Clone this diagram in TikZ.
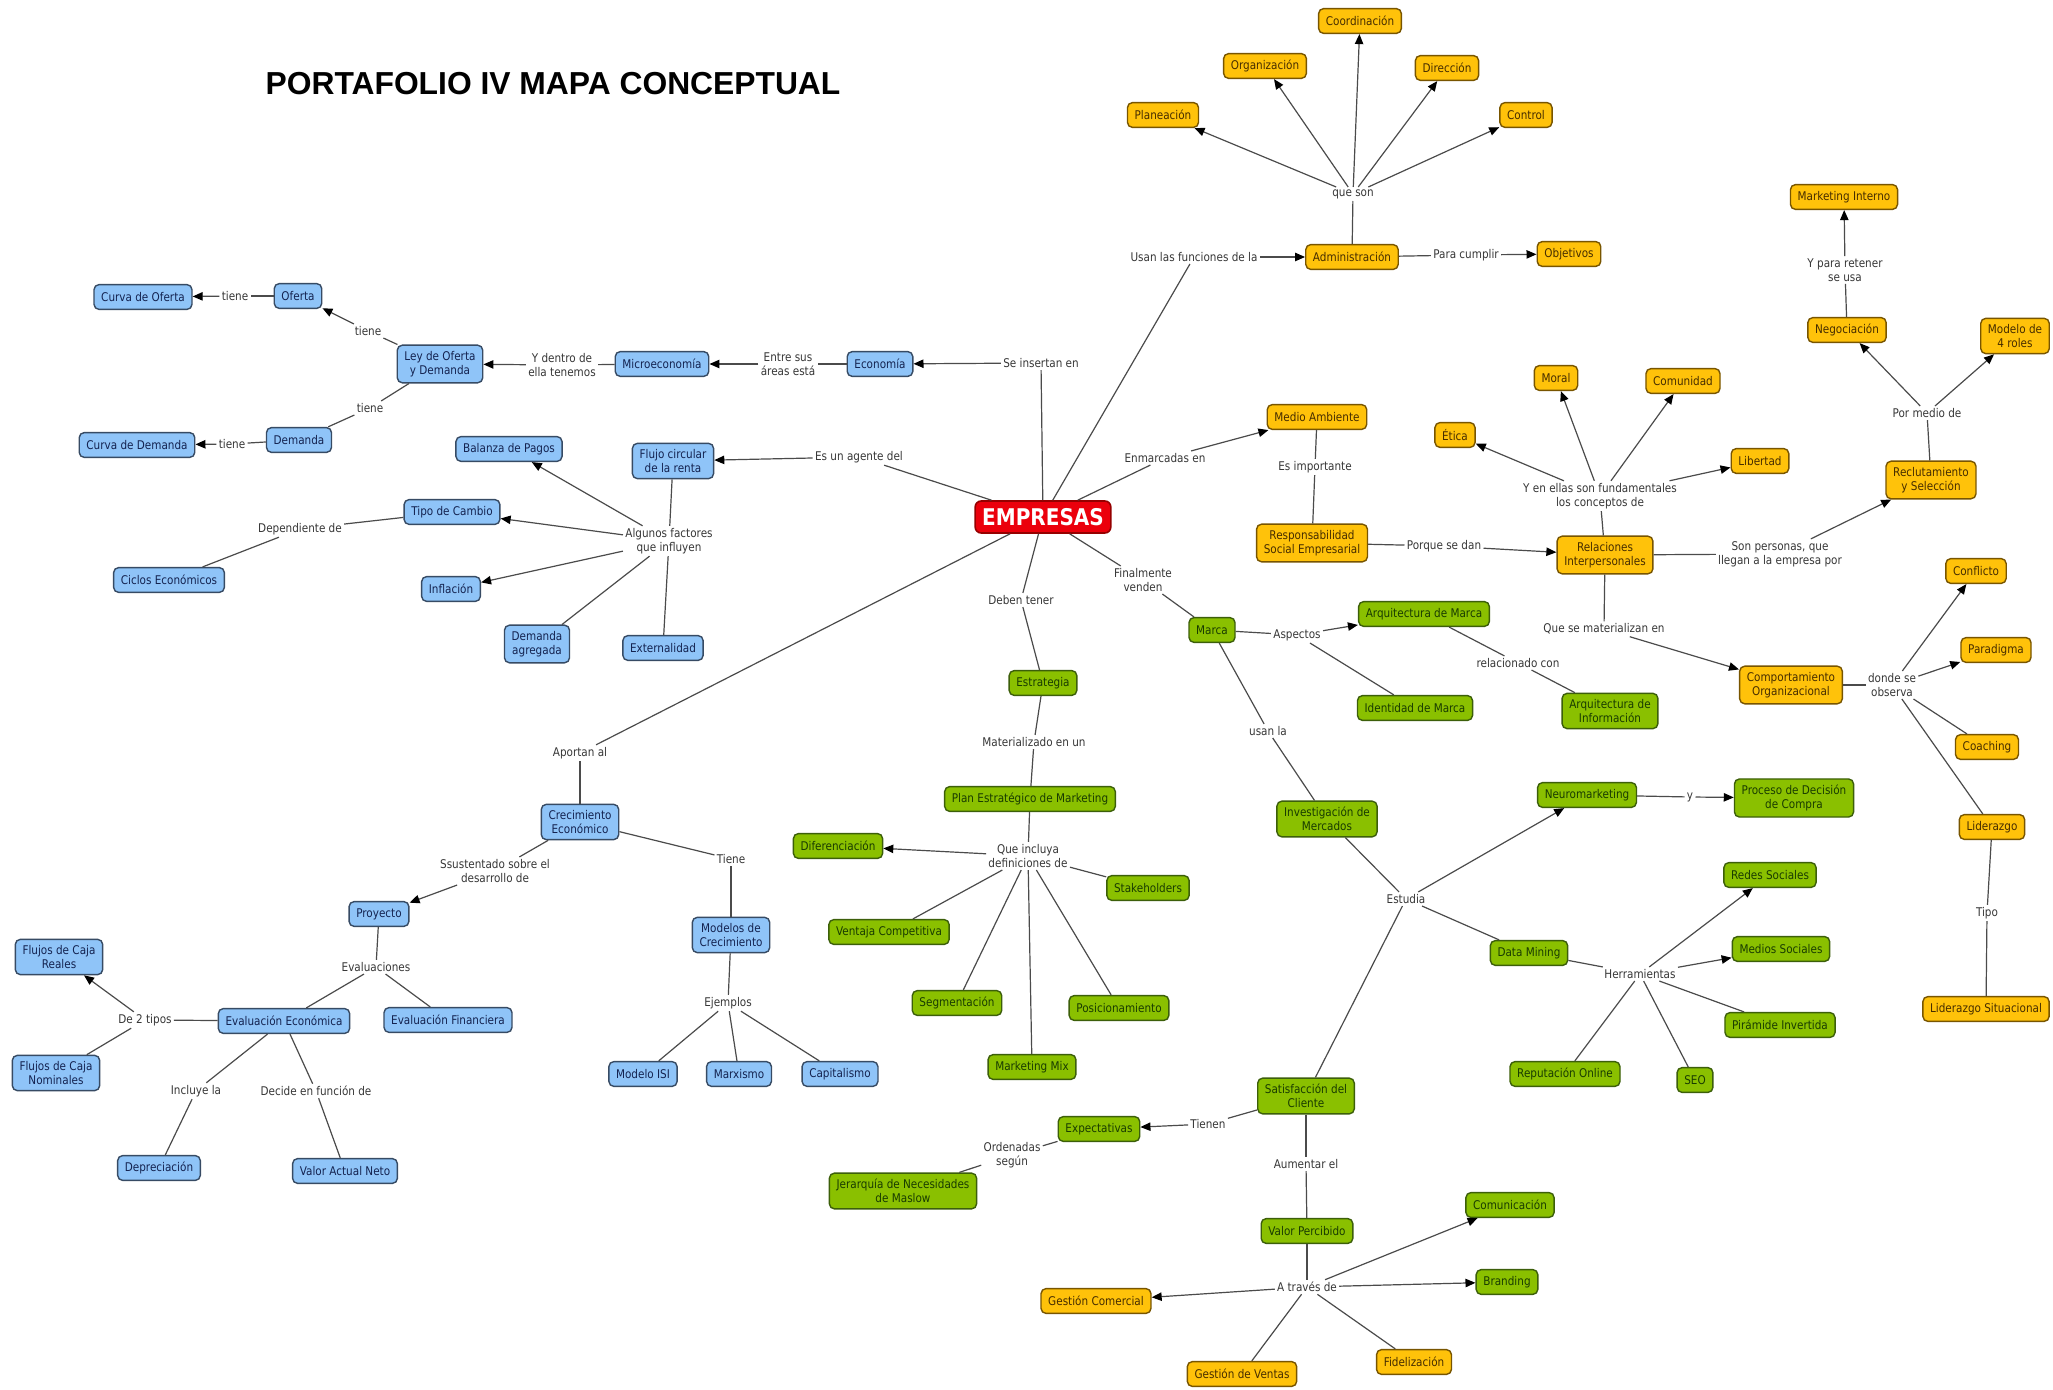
\documentclass[tikz,border=0pt]{standalone}
\usepackage{fontspec}
\usetikzlibrary{arrows.meta}
\newfontfamily\mapfont{DejaVu Sans}[FakeStretch=0.87]
\newfontfamily\titlefont{Liberation Sans}
\definecolor{bfill}{RGB}{143,196,248}
\definecolor{bdraw}{RGB}{55,75,100}
\definecolor{btext}{RGB}{20,35,80}
\definecolor{yfill}{RGB}{255,194,10}
\definecolor{ydraw}{RGB}{120,85,0}
\definecolor{ytext}{RGB}{70,45,0}
\definecolor{gfill}{RGB}{138,192,0}
\definecolor{gdraw}{RGB}{60,95,10}
\definecolor{gtext}{RGB}{25,60,0}
\definecolor{rfill}{RGB}{235,0,12}
\definecolor{rdraw}{RGB}{150,0,0}
\definecolor{lcol}{RGB}{75,75,75}
\definecolor{ltext}{RGB}{55,55,55}
\begin{document}
\begin{tikzpicture}[x=0.5pt,y=-0.5pt,
 box/.style={draw, rounded corners=2.5pt, line width=0.7pt, inner xsep=3.6pt, inner ysep=3pt, minimum height=12.4pt, align=center, font=\mapfont\fontsize{6}{7}\selectfont},
 bnode/.style={box, fill=bfill, draw=bdraw, text=btext},
 ynode/.style={box, fill=yfill, draw=ydraw, text=ytext},
 gnode/.style={box, fill=gfill, draw=gdraw, text=gtext},
 rnode/.style={draw=rdraw, fill=rfill, text=white, rounded corners=3pt, line width=0.8pt, inner xsep=3.5pt, minimum height=16pt, font=\mapfont\bfseries\fontsize{11.5}{13}\selectfont},
 lbl/.style={inner sep=1pt, align=center, text=ltext, font=\mapfont\fontsize{6}{7}\selectfont},
 ln/.style={draw=lcol, line width=0.6pt},
 ar/.style={ln, -{Triangle[length=5pt,width=4.2pt,color=black]}}
]
\fill[white] (0,0) rectangle (2053,1390);
\useasboundingbox (0,0) rectangle (2053,1390);

\node[anchor=base, font=\titlefont\bfseries\fontsize{15.9}{18}\selectfont] (title) at (553,95) {PORTAFOLIO IV MAPA CONCEPTUAL};

% ---------- blue nodes
\node[bnode] (cdo) at (143,297) {Curva de Oferta};
\node[bnode] (ofe) at (298,296) {Oferta};
\node[bnode] (ley) at (440,364) {Ley de Oferta\\y Demanda};
\node[bnode] (dem) at (299,440) {Demanda};
\node[bnode] (cdd) at (137,445) {Curva de Demanda};
\node[bnode] (mic) at (662,364) {Microeconomía};
\node[bnode] (eco) at (880,364) {Economía};
\node[bnode] (flu) at (673,461) {Flujo circular\\de la renta};
\node[bnode] (bal) at (509,449) {Balanza de Pagos};
\node[bnode] (tdc) at (452,512) {Tipo de Cambio};
\node[bnode] (cic) at (169,580) {Ciclos Económicos};
\node[bnode] (inf) at (451,589) {Inflación};
\node[bnode] (dag) at (537,644) {Demanda\\agregada};
\node[bnode] (ext) at (663,648) {Externalidad};
\node[bnode] (cre) at (580,822) {Crecimiento\\Económico};
\node[bnode] (pro) at (379,914) {Proyecto};
\node[bnode] (mod) at (731,935) {Modelos de\\Crecimiento};
\node[bnode] (isi) at (643,1074) {Modelo ISI};
\node[bnode] (mar) at (739,1074) {Marxismo};
\node[bnode] (cap) at (840,1074) {Capitalismo};
\node[bnode] (fcr) at (59,957) {Flujos de Caja\\Reales};
\node[bnode] (fcn) at (56,1073) {Flujos de Caja\\Nominales};
\node[bnode] (eve) at (284,1021) {Evaluación Económica};
\node[bnode] (evf) at (448,1020) {Evaluación Financiera};
\node[bnode] (dep) at (159,1168) {Depreciación};
\node[bnode] (van) at (345,1171) {Valor Actual Neto};

% ---------- yellow nodes
\node[ynode] (coo) at (1360,21) {Coordinación};
\node[ynode] (org) at (1265,66) {Organización};
\node[ynode] (dir) at (1447,68) {Dirección};
\node[ynode] (pla) at (1163,115) {Planeación};
\node[ynode] (con) at (1526,115) {Control};
\node[ynode] (adm) at (1352,257) {Administración};
\node[ynode] (obj) at (1569,254) {Objetivos};
\node[ynode] (med) at (1317,417) {Medio Ambiente};
\node[ynode] (rse) at (1312,543) {Responsabilidad\\Social Empresarial};
\node[ynode] (eti) at (1455,435) {Ética};
\node[ynode] (mor) at (1556,378) {Moral};
\node[ynode] (com) at (1683,381) {Comunidad};
\node[ynode] (lib) at (1760,461) {Libertad};
\node[ynode] (rel) at (1605,555) {Relaciones\\Interpersonales};
\node[ynode] (rec) at (1931,480) {Reclutamiento\\y Selección};
\node[ynode] (neg) at (1847,330) {Negociación};
\node[ynode] (mi) at (1844,197) {Marketing Interno};
\node[ynode] (m4r) at (2015,336) {Modelo de\\4 roles};
\node[ynode] (cof) at (1976,571) {Conflicto};
\node[ynode] (cor) at (1791,685) {Comportamiento\\Organizacional};
\node[ynode] (par) at (1996,650) {Paradigma};
\node[ynode] (coa) at (1987,747) {Coaching};
\node[ynode] (lid) at (1992,827) {Liderazgo};
\node[ynode] (lis) at (1986,1009) {Liderazgo Situacional};
\node[ynode] (gco) at (1096,1301) {Gestión Comercial};
\node[ynode] (gve) at (1242,1374) {Gestión de Ventas};
\node[ynode] (fid) at (1414,1362) {Fidelización};

% ---------- green nodes
\node[gnode] (est) at (1043,683) {Estrategia};
\node[gnode] (pem) at (1030,799) {Plan Estratégico de Marketing};
\node[gnode] (dif) at (838,846) {Diferenciación};
\node[gnode] (vco) at (889,932) {Ventaja Competitiva};
\node[gnode] (seg) at (957,1003) {Segmentación};
\node[gnode] (mmx) at (1032,1067) {Marketing Mix};
\node[gnode] (pos) at (1119,1008) {Posicionamiento};
\node[gnode] (sta) at (1148,888) {Stakeholders};
\node[gnode] (mca) at (1212,630) {Marca};
\node[gnode] (aqm) at (1424,614) {Arquitectura de Marca};
\node[gnode] (idm) at (1415,708) {Identidad de Marca};
\node[gnode] (aqi) at (1610,711) {Arquitectura de\\Información};
\node[gnode] (inv) at (1327,819) {Investigación de\\Mercados};
\node[gnode] (neu) at (1587,795) {Neuromarketing};
\node[gnode] (pdc) at (1794,798) {Proceso de Decisión\\de Compra};
\node[gnode] (dmi) at (1529,953) {Data Mining};
\node[gnode] (red) at (1770,875) {Redes Sociales};
\node[gnode] (mso) at (1781,949) {Medios Sociales};
\node[gnode] (pin) at (1780,1025) {Pirámide Invertida};
\node[gnode] (seo) at (1695,1080) {SEO};
\node[gnode] (rep) at (1565,1074) {Reputación Online};
\node[gnode] (sat) at (1306,1096) {Satisfacción del\\Cliente};
\node[gnode] (exp) at (1099,1129) {Expectativas};
\node[gnode] (jer) at (903,1191) {Jerarquía de Necesidades\\de Maslow};
\node[gnode] (vpe) at (1307,1231) {Valor Percibido};
\node[gnode] (comu) at (1510,1205) {Comunicación};
\node[gnode] (bra) at (1507,1282) {Branding};

% ---------- central node
\node[rnode] (emp) at (1043,517) {EMPRESAS};

% ---------- linking phrases
\node[lbl] (l1) at (1041,363) {Se insertan en};
\node[lbl] (l2) at (788,364) {Entre sus\\áreas está};
\node[lbl] (l3) at (562,365) {Y dentro de\\ella tenemos};
\node[lbl] (l4) at (368,331) {tiene};
\node[lbl] (l5) at (235,296) {tiene};
\node[lbl] (l6) at (370,408) {tiene};
\node[lbl] (l7) at (232,444) {tiene};
\node[lbl] (l8) at (859,457) {Es un agente del};
\node[lbl] (l9) at (669,541) {Algunos factores\\que influyen};
\node[lbl] (l10) at (300,529) {Dependiente de};
\node[lbl] (l11) at (580,753) {Aportan al};
\node[lbl] (l12) at (495,871) {Ssustentado sobre el\\desarrollo de};
\node[lbl] (l13) at (731,859) {Tiene};
\node[lbl] (l14) at (728,1003) {Ejemplos};
\node[lbl] (l15) at (376,967) {Evaluaciones};
\node[lbl] (l16) at (145,1020) {De 2 tipos};
\node[lbl] (l17) at (196,1091) {Incluye la};
\node[lbl] (l18) at (316,1091) {Decide en función de};
\node[lbl] (l19) at (1194,257) {Usan las funciones de la};
\node[lbl] (l20) at (1353,194) {que son};
\node[lbl] (l21) at (1466,255) {Para cumplir};
\node[lbl] (l22) at (1165,458) {Enmarcadas en};
\node[lbl] (l23) at (1315,467) {Es importante};
\node[lbl] (l24) at (1444,546) {Porque se dan};
\node[lbl] (l25) at (1600,496) {Y en ellas son fundamentales\\los conceptos de};
\node[lbl] (l26) at (1780,554) {Son personas, que\\llegan a la empresa por};
\node[lbl] (l27) at (1927,413) {Por medio de};
\node[lbl] (l28) at (1845,270) {Y para retener\\se usa};
\node[lbl] (l29) at (1604,629) {Que se materializan en};
\node[lbl] (l30) at (1892,685) {donde se\\observa};
\node[lbl] (l31) at (1987,913) {Tipo};
\node[lbl] (l32) at (1021,600) {Deben tener};
\node[lbl] (l33) at (1034,742) {Materializado en un};
\node[lbl] (l34) at (1028,856) {Que incluya\\definiciones de};
\node[lbl] (l35) at (1143,580) {Finalmente\\venden};
\node[lbl] (l36) at (1297,635) {Aspectos};
\node[lbl] (l37) at (1518,663) {relacionado con};
\node[lbl] (l38) at (1268,731) {usan la};
\node[lbl] (l39) at (1406,899) {Estudia};
\node[lbl] (l40) at (1690,797) {y};
\node[lbl] (l41) at (1640,974) {Herramientas};
\node[lbl] (l42) at (1208,1124) {Tienen};
\node[lbl] (l43) at (1012,1155) {Ordenadas\\según};
\node[lbl] (l44) at (1306,1164) {Aumentar el};
\node[lbl] (l45) at (1307,1287) {A través de};

% ---------- connectors: economics
\draw[ln] (emp) -- (l1); \draw[ar] (l1) -- (eco);
\draw[ln] (eco) -- (l2); \draw[ar] (l2) -- (mic);
\draw[ln] (mic) -- (l3); \draw[ar] (l3) -- (ley);
\draw[ln] (ley) -- (l4); \draw[ar] (l4) -- (ofe);
\draw[ln] (ofe) -- (l5); \draw[ar] (l5) -- (cdo);
\draw[ln] (ley) -- (l6); \draw[ln] (l6) -- (dem);
\draw[ln] (dem) -- (l7); \draw[ar] (l7) -- (cdd);
\draw[ln] (emp) -- (l8); \draw[ar] (l8) -- (flu);
\draw[ln] (flu) -- (l9);
\draw[ar] (l9) -- (bal); \draw[ar] (l9) -- (tdc); \draw[ar] (l9) -- (inf);
\draw[ln] (l9) -- (dag); \draw[ln] (l9) -- (ext);
\draw[ln] (tdc) -- (l10); \draw[ln] (l10) -- (cic);
\draw[ln] (emp) -- (l11); \draw[ln] (l11) -- (cre);
\draw[ln] (cre) -- (l12); \draw[ar] (l12) -- (pro);
\draw[ln] (cre) -- (l13); \draw[ln] (l13) -- (mod);
\draw[ln] (mod) -- (l14);
\draw[ln] (l14) -- (isi); \draw[ln] (l14) -- (mar); \draw[ln] (l14) -- (cap);
\draw[ln] (pro) -- (l15); \draw[ln] (l15) -- (eve); \draw[ln] (l15) -- (evf);
\draw[ln] (eve) -- (l16); \draw[ar] (l16) -- (fcr); \draw[ln] (l16) -- (fcn);
\draw[ln] (eve) -- (l17); \draw[ln] (l17) -- (dep);
\draw[ln] (eve) -- (l18); \draw[ln] (l18) -- (van);

% ---------- connectors: administration / people
\draw[ln] (emp) -- (l19); \draw[ar] (l19) -- (adm);
\draw[ln] (adm) -- (l20);
\draw[ar] (l20) -- (pla); \draw[ar] (l20) -- (org); \draw[ar] (l20) -- (coo);
\draw[ar] (l20) -- (dir); \draw[ar] (l20) -- (con);
\draw[ln] (adm) -- (l21); \draw[ar] (l21) -- (obj);
\draw[ln] (emp) -- (l22); \draw[ar] (l22) -- (med);
\draw[ln] (med) -- (l23); \draw[ln] (l23) -- (rse);
\draw[ln] (rse) -- (l24); \draw[ar] (l24) -- (rel);
\draw[ln] (rel) -- (l25);
\draw[ar] (l25) -- (eti); \draw[ar] (l25) -- (mor); \draw[ar] (l25) -- (com); \draw[ar] (l25) -- (lib);
\draw[ln] (rel) -- (l26); \draw[ar] (l26) -- (rec);
\draw[ln] (rec) -- (l27); \draw[ar] (l27) -- (neg); \draw[ar] (l27) -- (m4r);
\draw[ln] (neg) -- (l28); \draw[ar] (l28) -- (mi);
\draw[ln] (rel) -- (l29); \draw[ar] (l29) -- (cor);
\draw[ln] (cor) -- (l30);
\draw[ar] (l30) -- (cof); \draw[ar] (l30) -- (par); \draw[ln] (l30) -- (coa); \draw[ln] (l30) -- (lid);
\draw[ln] (lid) -- (l31); \draw[ln] (l31) -- (lis);

% ---------- connectors: marketing
\draw[ln] (emp) -- (l32); \draw[ln] (l32) -- (est);
\draw[ln] (est) -- (l33); \draw[ln] (l33) -- (pem);
\draw[ln] (pem) -- (l34);
\draw[ar] (l34) -- (dif); \draw[ln] (l34) -- (vco); \draw[ln] (l34) -- (seg);
\draw[ln] (l34) -- (mmx); \draw[ln] (l34) -- (pos); \draw[ln] (l34) -- (sta);
\draw[ln] (emp) -- (l35); \draw[ln] (l35) -- (mca);
\draw[ln] (mca) -- (l36); \draw[ar] (l36) -- (aqm); \draw[ln] (l36) -- (idm);
\draw[ln] (aqm) -- (l37); \draw[ln] (l37) -- (aqi);
\draw[ln] (mca) -- (l38); \draw[ln] (l38) -- (inv);
\draw[ln] (inv) -- (l39);
\draw[ar] (l39) -- (neu); \draw[ln] (l39) -- (dmi); \draw[ln] (l39) -- (sat);
\draw[ln] (neu) -- (l40); \draw[ar] (l40) -- (pdc);
\draw[ln] (dmi) -- (l41);
\draw[ar] (l41) -- (red); \draw[ar] (l41) -- (mso);
\draw[ln] (l41) -- (pin); \draw[ln] (l41) -- (seo); \draw[ln] (l41) -- (rep);
\draw[ln] (sat) -- (l42); \draw[ar] (l42) -- (exp);
\draw[ln] (exp) -- (l43); \draw[ln] (l43) -- (jer);
\draw[ln] (sat) -- (l44); \draw[ln] (l44) -- (vpe);
\draw[ln] (vpe) -- (l45);
\draw[ar] (l45) -- (comu); \draw[ar] (l45) -- (bra); \draw[ar] (l45) -- (gco);
\draw[ln] (l45) -- (gve); \draw[ln] (l45) -- (fid);
\end{tikzpicture}
\end{document}
